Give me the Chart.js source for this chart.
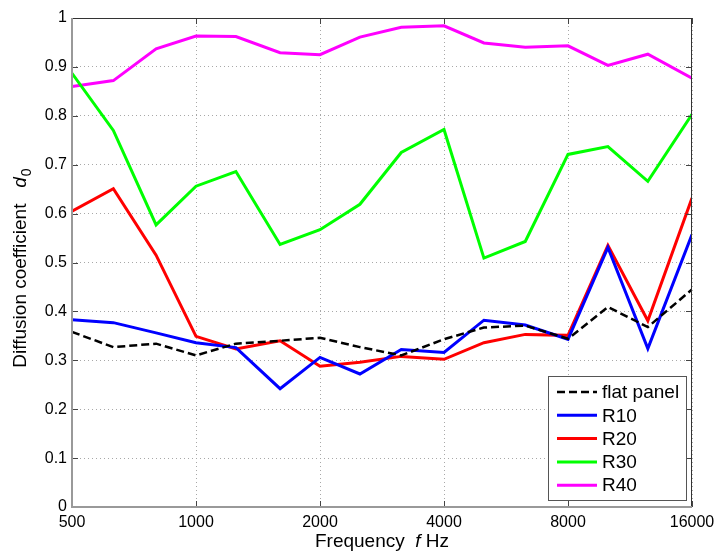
<!DOCTYPE html>
<html>
<head>
<meta charset="utf-8">
<script src="https://cdn.jsdelivr.net/npm/chart.js@4.4.1/dist/chart.umd.min.js"></script>
<style>
  html, body { margin: 0; padding: 0; background: #fff; }
  #wrap { width: 716px; height: 554px; position: relative; }
</style>
</head>
<body>
<div id="wrap"><canvas id="diffChart"></canvas></div>
<script>
// third-octave band centre frequencies (Hz)
var freqs = [500, 630, 800, 1000, 1250, 1600, 2000, 2500, 3150, 4000, 5000, 6300, 8000, 10000, 12500, 16000];

// diffusion coefficient d0 per panel
var flatPanel = [0.358, 0.327, 0.334, 0.310, 0.334, 0.340, 0.346, 0.327, 0.310, 0.343, 0.367, 0.371, 0.344, 0.409, 0.368, 0.445];
var r10 = [0.383, 0.377, 0.356, 0.336, 0.326, 0.242, 0.306, 0.272, 0.322, 0.316, 0.382, 0.372, 0.343, 0.531, 0.324, 0.557];
var r20 = [0.605, 0.651, 0.515, 0.349, 0.323, 0.340, 0.288, 0.296, 0.308, 0.302, 0.336, 0.353, 0.351, 0.535, 0.381, 0.632];
var r30 = [0.887, 0.770, 0.577, 0.656, 0.686, 0.537, 0.567, 0.619, 0.725, 0.772, 0.509, 0.543, 0.721, 0.737, 0.666, 0.803];
var r40 = [0.860, 0.872, 0.937, 0.963, 0.962, 0.929, 0.925, 0.961, 0.981, 0.984, 0.949, 0.940, 0.943, 0.903, 0.926, 0.877];

var seriesNames = ['flat panel', 'R10', 'R20', 'R30', 'R40'];

// axis ticks
var xTicks = [500, 1000, 2000, 4000, 8000, 16000];
var yTicks = [0, 0.1, 0.2, 0.3, 0.4, 0.5, 0.6, 0.7, 0.8, 0.9, 1];

var FONT = '"Liberation Sans", Arial, Helvetica, sans-serif';

function toPoints(values) {
    return values.map(function(v, i) { return { x: freqs[i], y: v }; });
}

// Box with inward tick marks, like the MATLAB figure
var framePlugin = {
    id: 'frame',
    afterDatasetsDraw: function(chart) {
        var ctx = chart.ctx;
        var a = chart.chartArea;
        var xs = chart.scales.x, ys = chart.scales.y;
        ctx.save();
        ctx.strokeStyle = '#444';
        ctx.lineWidth = 1;
        ctx.beginPath();
        xTicks.forEach(function(v) {
            var px = Math.round(xs.getPixelForValue(v)) + 0.5;
            ctx.moveTo(px, a.bottom); ctx.lineTo(px, a.bottom - 6);
            ctx.moveTo(px, a.top); ctx.lineTo(px, a.top + 6);
        });
        yTicks.forEach(function(v) {
            var py = Math.round(ys.getPixelForValue(v)) + 0.5;
            ctx.moveTo(a.left, py); ctx.lineTo(a.left + 6, py);
            ctx.moveTo(a.right, py); ctx.lineTo(a.right - 6, py);
        });
        ctx.stroke();
        // top and right edge
        ctx.strokeStyle = '#333';
        ctx.beginPath();
        ctx.moveTo(a.left, a.top + 0.5); ctx.lineTo(a.right, a.top + 0.5);
        ctx.moveTo(a.right - 0.5, a.top); ctx.lineTo(a.right - 0.5, a.bottom);
        ctx.stroke();
        // left and bottom edge (grey, a bit heavier)
        ctx.strokeStyle = '#999';
        ctx.lineWidth = 2;
        ctx.beginPath();
        ctx.moveTo(a.left, a.top); ctx.lineTo(a.left, a.bottom);
        ctx.lineTo(a.right, a.bottom);
        ctx.stroke();
        ctx.restore();
    }
};

// Axis titles with italic symbol and subscript
var titlesPlugin = {
    id: 'axisTitles',
    afterDraw: function(chart) {
        var ctx = chart.ctx;
        var a = chart.chartArea;
        ctx.save();
        ctx.fillStyle = '#000';
        ctx.textBaseline = 'middle';
        ctx.textAlign = 'left';

        // x title: "Frequency  f Hz"
        var p1 = 'Frequency  ', p2 = 'f', p3 = ' Hz';
        ctx.font = '19px ' + FONT;
        var w1 = ctx.measureText(p1).width, w3 = ctx.measureText(p3).width;
        ctx.font = 'italic 19px ' + FONT;
        var w2 = ctx.measureText(p2).width;
        var x0 = (a.left + a.right) / 2 - (w1 + w2 + w3) / 2;
        var yx = 542;
        ctx.font = '19px ' + FONT;
        ctx.fillText(p1, x0, yx);
        ctx.font = 'italic 19px ' + FONT;
        ctx.fillText(p2, x0 + w1, yx);
        ctx.font = '19px ' + FONT;
        ctx.fillText(p3, x0 + w1 + w2, yx);

        // y title: "Diffusion coefficient  d0"
        var q1 = 'Diffusion coefficient   ', q2 = 'd', q3 = '0';
        ctx.font = '19px ' + FONT;
        var v1 = ctx.measureText(q1).width;
        ctx.font = 'italic 19px ' + FONT;
        var v2 = ctx.measureText(q2).width;
        ctx.font = '14px ' + FONT;
        var v3 = ctx.measureText(q3).width;
        var total = v1 + v2 + v3 + 1;
        ctx.translate(21, 268);
        ctx.rotate(-Math.PI / 2);
        var s = -total / 2;
        ctx.font = '19px ' + FONT;
        ctx.fillText(q1, s, 0);
        ctx.font = 'italic 19px ' + FONT;
        ctx.fillText(q2, s + v1, 0);
        ctx.font = '14px ' + FONT;
        ctx.fillText(q3, s + v1 + v2 + 1, 6);
        ctx.restore();
    }
};

// Legend box in the lower right corner of the plot
var legendPlugin = {
    id: 'boxLegend',
    afterDraw: function(chart) {
        var ctx = chart.ctx;
        var a = chart.chartArea;
        var ds = chart.data.datasets;
        var bx = a.right - 144, by = a.bottom - 131, bw = 138, bh = 124;
        ctx.save();
        ctx.fillStyle = '#fff';
        ctx.fillRect(bx, by, bw, bh);
        ctx.strokeStyle = '#555';
        ctx.lineWidth = 1;
        ctx.strokeRect(bx + 0.5, by + 0.5, bw, bh);
        ctx.font = '19px ' + FONT;
        ctx.textBaseline = 'middle';
        ctx.textAlign = 'left';
        for (var i = 0; i < ds.length; i++) {
            var yy = by + 16 + i * 23.3;
            ctx.strokeStyle = ds[i].borderColor;
            ctx.lineWidth = ds[i].borderWidth;
            ctx.setLineDash(ds[i].borderDash || []);
            ctx.beginPath();
            ctx.moveTo(bx + 9, yy);
            ctx.lineTo(bx + 49, yy);
            ctx.stroke();
            ctx.setLineDash([]);
            ctx.fillStyle = '#000';
            ctx.fillText(ds[i].label, bx + 54, yy + 1);
        }
        ctx.restore();
    }
};

var ctx = document.getElementById('diffChart').getContext('2d');
new Chart(ctx, {
    type: 'line',
    data: {
        datasets: [
            { label: seriesNames[0], data: toPoints(flatPanel), borderColor: '#000000', borderWidth: 2.5, borderDash: [8, 4] },
            { label: seriesNames[1], data: toPoints(r10), borderColor: '#0000ff', borderWidth: 3 },
            { label: seriesNames[2], data: toPoints(r20), borderColor: '#ff0000', borderWidth: 3 },
            { label: seriesNames[3], data: toPoints(r30), borderColor: '#00ff00', borderWidth: 3 },
            { label: seriesNames[4], data: toPoints(r40), borderColor: '#ff00ff', borderWidth: 3 }
        ]
    },
    options: {
        responsive: true,
        maintainAspectRatio: false,
        animation: false,
        devicePixelRatio: 1,
        elements: {
            point: { radius: 0, hoverRadius: 0 },
            line: { tension: 0, fill: false }
        },
        layout: { autoPadding: false, padding: { left: 0, right: 24, top: 18, bottom: 0 } },
        plugins: {
            legend: { display: false },
            tooltip: { enabled: false },
            title: { display: false }
        },
        scales: {
            x: {
                type: 'logarithmic',
                min: 500,
                max: 16000,
                afterBuildTicks: function(scale) {
                    scale.ticks = xTicks.map(function(v) { return { value: v }; });
                },
                afterFit: function(scale) {
                    scale.height = 47;
                    // the outer tick labels may overhang the plot, as in the original
                    scale.paddingLeft = 0;
                    scale.paddingRight = 0;
                },
                ticks: {
                    autoSkip: false,
                    maxRotation: 0,
                    padding: 6,
                    color: '#000',
                    font: { family: FONT, size: 16 },
                    callback: function(v) { return String(v); }
                },
                grid: { color: '#a8a8a8', lineWidth: 1, drawTicks: false },
                border: { display: false, dash: [1, 3] }
            },
            y: {
                min: 0,
                max: 1,
                afterBuildTicks: function(scale) {
                    scale.ticks = yTicks.map(function(v) { return { value: v }; });
                },
                afterFit: function(scale) {
                    scale.width = 72;
                    scale.paddingTop = 0;
                    scale.paddingBottom = 0;
                },
                ticks: {
                    padding: 5,
                    color: '#000',
                    font: { family: FONT, size: 16 },
                    callback: function(v) {
                        if (v === 0 || v === 1) return String(v);
                        return v.toFixed(1);
                    }
                },
                grid: { color: '#a8a8a8', lineWidth: 1, drawTicks: false },
                border: { display: false, dash: [1, 3] }
            }
        }
    },
    plugins: [framePlugin, legendPlugin, titlesPlugin]
});
</script>
</body>
</html>
